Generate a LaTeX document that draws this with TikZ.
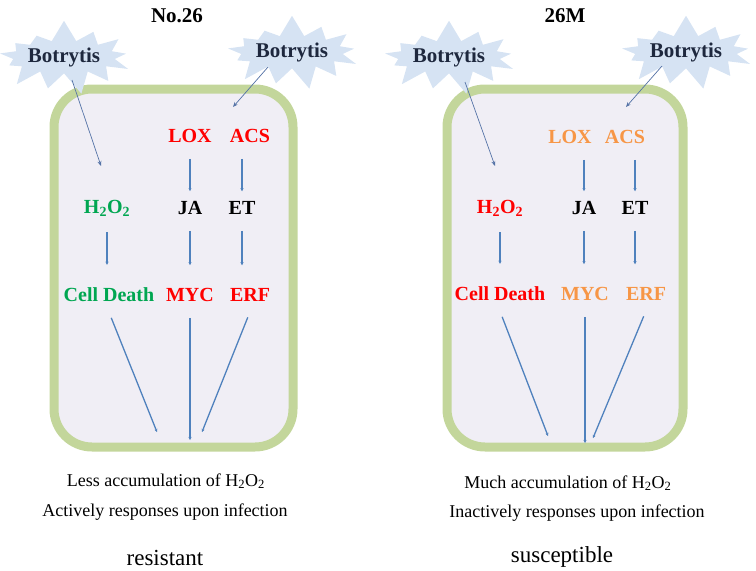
\documentclass[tikz,border=0pt]{standalone}
\usepackage{fontspec}
\setmainfont{Liberation Serif}
\usetikzlibrary{shapes,arrows.meta,positioning}
\definecolor{wallgreen}{RGB}{195,214,155}
\definecolor{cellfill}{RGB}{240,238,245}
\definecolor{flowblue}{RGB}{79,129,189}
\definecolor{hitblue}{RGB}{84,114,166}
\definecolor{burstblue}{RGB}{214,227,243}
\definecolor{navy}{RGB}{30,40,62}
\definecolor{upred}{RGB}{255,0,0}
\definecolor{upgreen}{RGB}{0,166,81}
\definecolor{loworange}{RGB}{247,150,70}
\def \lblsize {\fontsize{20}{24}\selectfont\bfseries}

\begin{document}
\begin{tikzpicture}[x=1pt,y=-1pt,on grid,
    lbl/.style={font=\lblsize,inner xsep=1pt,inner ysep=10pt},
    title/.style={font=\fontsize{21}{25}\selectfont\bfseries},
    note/.style={font=\fontsize{18}{22}\selectfont},
    verdict/.style={font=\fontsize{23}{28}\selectfont},
    burst/.style={starburst,fill=burstblue,starburst points=13,starburst point height=22pt,
      random starburst=7,inner xsep=0pt,inner ysep=2pt,text=navy,font=\fontsize{21}{25}\selectfont\bfseries},
    wall/.style={draw=wallgreen,fill=cellfill,line width=9pt,rounded corners=38pt},
    flow/.style={draw=flowblue,line width=1.3pt,-{Stealth[length=3pt,width=3pt]},shorten <=6pt},
    hit/.style={draw=hitblue,line width=0.7pt,-{Stealth[length=5pt,width=4pt]}}]
    \useasboundingbox (0,0) rectangle (756,571);

    % cells
    \draw[wall] (54,89) rectangle (293,447);
    \draw[wall] (447,89) rectangle (683,447);

    % No.26
    \node[title] (ltitle) at (177,16) {No.26};
    \node[burst] (lbot1) at (64,57) {Botrytis};
    \node[burst] (lbot2) at (292,52) {Botrytis};
    \coordinate (linfect1) at (101,166);
    \coordinate (linfect2) at (233,107);
    \node[lbl,text=upred] (llox) at (190,136) {LOX};
    \node[lbl,text=upred,right=60pt of llox] (lacs) {ACS};
    \node[lbl,text=upgreen] (lh2o2) at (107,208) {H\textsubscript{2}O\textsubscript{2}};
    \node[lbl,below=72pt of llox] (lja) {JA};
    \node[lbl] (let) at (242,208) {ET};
    \node[lbl,text=upgreen] (lcd) at (109,295) {Cell Death};
    \node[lbl,text=upred,below=87pt of lja] (lmyc) {MYC};
    \node[lbl,text=upred,right=60pt of lmyc] (lerf) {ERF};
    \coordinate (lhit1) at (157,432);
    \coordinate (lhit2) at (190,440);
    \coordinate (lhit3) at (202,432);
    \draw[hit] ([shift={(8,23)}]lbot1.center) -- (linfect1);
    \draw[hit] ([shift={(-24,15)}]lbot2.center) -- (linfect2);
    \draw[flow] (llox.south -| lja) -- (lja.north);
    \draw[flow] (lacs.south -| let) -- (let.north);
    \draw[flow,shorten >=13pt] (lh2o2.south) -- (lh2o2.south |- lcd.north);
    \draw[flow,shorten >=13pt] (lja) -- (lmyc);
    \draw[flow,shorten >=13pt] (let.south) -- (let.south |- lerf.north);
    \draw[flow] (lcd.south) -- (lhit1);
    \draw[flow] (lmyc.south) -- (lhit2);
    \draw[flow] (lerf.south) -- (lhit3);
    \node[note] (lnote1) at (166,481) {Less accumulation of H\textsubscript{2}O\textsubscript{2}};
    \node[note] (lnote2) at (165,512) {Actively responses upon infection};
    \node[verdict] (lverdict) at (165,558) {resistant};

    % 26M
    \node[title] (rtitle) at (565,16) {26M};
    \node[burst] (rbot1) at (449,57) {Botrytis};
    \node[burst] (rbot2) at (686,52) {Botrytis};
    \coordinate (rinfect1) at (495,166);
    \coordinate (rinfect2) at (626,107);
    \node[lbl,text=loworange] (rlox) at (570,137) {LOX};
    \node[lbl,text=loworange,right=55pt of rlox] (racs) {ACS};
    \node[lbl,text=upred] (rh2o2) at (500,208) {H\textsubscript{2}O\textsubscript{2}};
    \node[lbl] (rja) at (584,208) {JA};
    \node[lbl] (ret) at (635,208) {ET};
    \node[lbl,text=upred,below=86pt of rh2o2] (rcd) {Cell Death};
    \node[lbl,text=loworange] (rmyc) at (585,294) {MYC};
    \node[lbl,text=loworange,right=61pt of rmyc] (rerf) {ERF};
    \coordinate (rhit1) at (548,436);
    \coordinate (rhit2) at (585,443);
    \coordinate (rhit3) at (593,438);
    \draw[hit] ([shift={(16,25)}]rbot1.center) -- (rinfect1);
    \draw[hit] ([shift={(-24,14)}]rbot2.center) -- (rinfect2);
    \draw[flow] (rlox.south -| rja) -- (rja.north);
    \draw[flow] (racs.south -| ret) -- (ret.north);
    \draw[flow,shorten >=13pt] (rh2o2.south) -- (rh2o2.south |- rcd.north);
    \draw[flow,shorten >=13pt] (rja.south) -- (rja.south |- rmyc.north);
    \draw[flow,shorten >=13pt] (ret.south) -- (ret.south |- rerf.north);
    \draw[flow] (rcd.south) -- (rhit1);
    \draw[flow] (rmyc.south) -- (rhit2);
    \draw[flow] (rerf.south) -- (rhit3);
    \node[note] (rnote1) at (568,483) {Much accumulation of H\textsubscript{2}O\textsubscript{2}};
    \node[note] (rnote2) at (577,513) {Inactively responses upon infection};
    \node[verdict] (rverdict) at (562,557) {susceptible};
\end{tikzpicture}
\end{document}
